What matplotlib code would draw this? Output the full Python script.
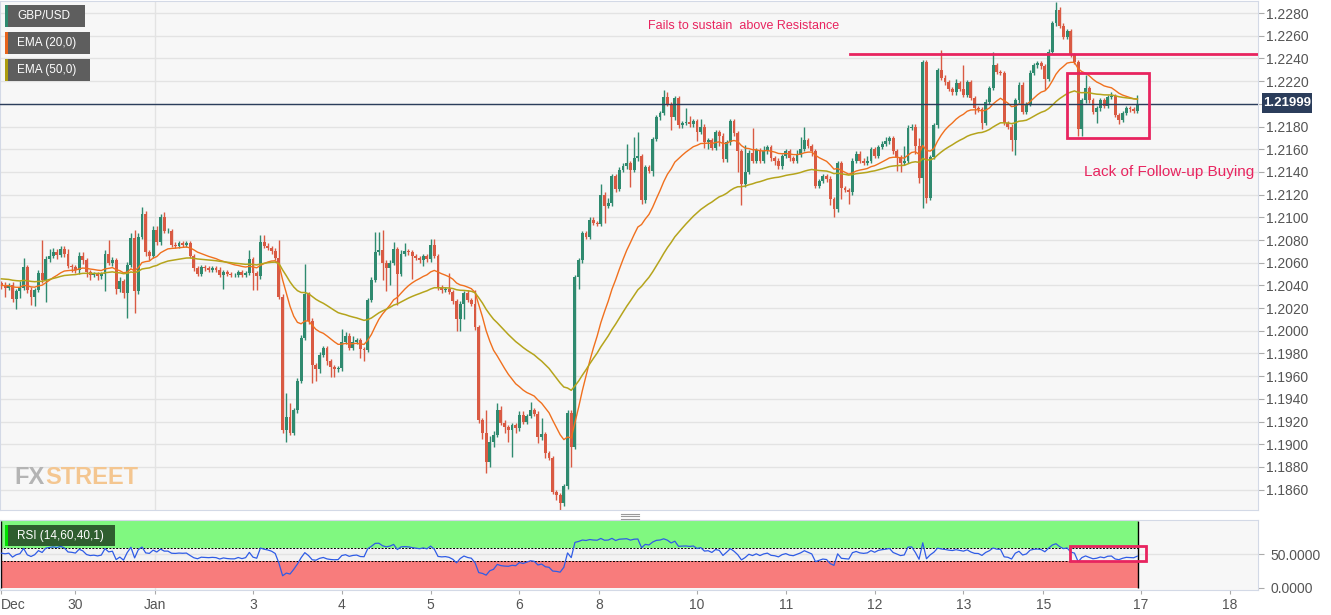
import numpy as np
import pandas as pd
import matplotlib
matplotlib.use("Agg")
import matplotlib.pyplot as plt
from matplotlib.patches import Rectangle
from matplotlib.lines import Line2D
from matplotlib import font_manager

# ---------------------------------------------------------------------------
# GBP/USD hourly candles, closes in pips (price * 10000), one list per day
# ---------------------------------------------------------------------------
first_open = 12042
dec29 = [12040, 12038, 12040, 12028, 12035, 12038, 12056, 12036, 12030, 12036,
         12051, 12045, 12063, 12066, 12069, 12067, 12072, 12068, 12057, 12056]
dec30 = [12054, 12066, 12062, 12052, 12049, 12050, 12048, 12050, 12068, 12060, 12062,
         12037, 12044, 12033, 12058, 12082, 12035, 12083, 12103, 12069, 12066, 12089]
jan01 = [12078, 12100]
jan02 = [12088, 12088, 12076, 12075, 12077, 12076, 12077, 12066, 12055, 12050, 12056, 12055,
         12054, 12055, 12054, 12049, 12052, 12050, 12049, 12049, 12052, 12049, 12051, 12063]
jan03 = [12051, 12048, 12078, 12075, 12073, 12070, 12064, 12030, 11913, 11924, 11910, 11930,
         11956, 11994, 12032, 12009, 11970, 11966, 11979, 11985, 11973, 11968, 11966, 11967]
jan04 = [11990, 11995, 11985, 11990, 11992, 11984, 11983, 12027, 12045, 12069, 12071, 12060,
         12055, 12060, 12072, 12050, 12068, 12070, 12069, 12066, 12064, 12062, 12066, 12063]
jan05 = [12076, 12066, 12038, 12036, 12037, 12034, 12026, 12010, 12024, 12033, 12027, 12024,
         12003, 11921, 11910, 11884, 11902, 11908, 11930, 11919, 11915, 11913, 11917, 11914]
jan06 = [11926, 11920, 11925, 11930, 11927, 11906, 11909, 11892, 11888, 11858, 11855,
         11848, 11863, 11928, 11898, 12047, 12062, 12086, 12083, 12098, 12095, 12094]
jan08 = [12120, 12110]
jan09 = [12113, 12136, 12125, 12142, 12145, 12148, 12142, 12152, 12154, 12115, 12144, 12141,
         12169, 12188, 12192, 12206, 12200, 12188, 12205, 12181, 12183, 12184, 12182, 12185]
jan10 = [12175, 12180, 12166, 12168, 12161, 12175, 12172, 12151, 12166, 12185, 12174, 12158,
         12129, 12140, 12157, 12150, 12159, 12150, 12158, 12162, 12152, 12150, 12145, 12154]
jan11 = [12158, 12152, 12150, 12155, 12160, 12168, 12163, 12158, 12128, 12132, 12136, 12134,
         12116, 12107, 12148, 12126, 12124, 12122, 12150, 12156, 12150, 12148, 12150, 12160]
jan12 = [12154, 12162, 12165, 12167, 12170, 12158, 12153, 12148, 12150, 12179, 12180, 12163,
         12135, 12237, 12117, 12153, 12181, 12230, 12223, 12219, 12213, 12210, 12218, 12213]
jan13 = [12208, 12219, 12205, 12196, 12195, 12183, 12202, 12214, 12234, 12228, 12227,
         12183, 12180, 12168, 12203, 12217, 12193, 12200, 12227, 12234, 12236, 12233]
jan15 = [12222, 12246]
jan16 = [12271, 12283, 12269, 12259, 12264, 12243, 12237, 12178, 12203, 12214, 12203, 12193,
         12196, 12203, 12198, 12206, 12207, 12190, 12186, 12192, 12196, 12195, 12194, 12200]

# wick lengths above / below the body, in pips
upper_wick = ([2, 3, 2, 3, 2, 6, 8, 2, 3, 2, 3, 29, 3, 6, 4, 3, 3, 3, 4, 2]
              + [2, 3, 3, 2, 2, 2, 2, 2, 3, 12, 3, 2, 3, 2, 3, 4, 7, 3, 6, 3, 2, 3]
              + [3, 3]
              + [5, 3, 2, 2, 2, 2, 2, 2, 2, 2, 2, 2, 2, 2, 2, 2, 2, 2, 2, 2, 2, 2, 2, 8]
              + [2, 2, 6, 6, 2, 2, 3, 16, 2, 21, 12, 2, 2, 2, 27, 2, 2, 2, 2, 2, 2, 2, 2, 2]
              + [12, 4, 3, 5, 2, 2, 2, 2, 2, 18, 16, 18, 2, 2, 6, 2, 3, 7, 2, 2, 2, 2, 2, 2]
              + [5, 5, 2, 2, 2, 14, 2, 2, 2, 2, 3, 2, 12, 2, 2, 20, 5, 4, 6, 4, 2, 2, 2, 2]
              + [3, 3, 2, 7, 2, 2, 14, 2, 2, 2, 2, 2, 2, 2, 2, 2, 2, 2, 2, 2, 2, 2]
              + [9, 2]
              + [4, 2, 2, 2, 3, 17, 2, 19, 21, 2, 2, 2, 2, 2, 2, 6, 4, 2, 2, 2, 2, 12, 5, 2]
              + [2, 7, 2, 2, 2, 2, 2, 2, 2, 2, 2, 2, 2, 24, 2, 22, 2, 2, 5, 2, 2, 2, 2, 2]
              + [2, 2, 2, 4, 11, 12, 2, 2, 2, 2, 2, 2, 2, 2, 2, 2, 2, 2, 2, 2, 2, 2, 4, 2]
              + [2, 2, 2, 4, 2, 2, 2, 2, 13, 2, 2, 2, 7, 2, 2, 2, 2, 2, 17, 2, 2, 2, 4, 2]
              + [21, 2, 2, 2, 2, 2, 2, 2, 12, 2, 2, 2, 2, 2, 2, 2, 2, 2, 3, 2, 2, 2]
              + [2, 2]
              + [2, 7, 2, 2, 2, 2, 2, 2, 2, 11, 2, 2, 2, 2, 2, 2, 3, 2, 2, 2, 2, 2, 2, 8])
lower_wick = ([3, 8, 2, 3, 9, 6, 2, 3, 7, 8, 2, 3, 20, 2, 2, 4, 2, 3, 2, 4]
              + [3, 4, 3, 5, 4, 2, 3, 2, 15, 2, 3, 5, 3, 4, 22, 2, 19, 3, 2, 3, 4, 2]
              + [2, 2]
              + [2, 2, 2, 2, 2, 2, 2, 2, 2, 2, 2, 2, 2, 2, 2, 2, 12, 2, 2, 2, 2, 2, 2, 2]
              + [15, 12, 2, 2, 2, 2, 2, 2, 3, 11, 2, 2, 2, 2, 2, 3, 16, 10, 3, 2, 3, 9, 7, 2]
              + [2, 2, 2, 2, 2, 8, 10, 2, 2, 2, 2, 15, 20, 15, 2, 27, 2, 2, 2, 20, 2, 2, 5, 2]
              + [2, 2, 2, 3, 2, 2, 2, 10, 10, 14, 2, 2, 2, 2, 5, 9, 4, 4, 2, 2, 5, 11, 24, 4]
              + [2, 2, 2, 2, 2, 5, 2, 4, 2, 2, 4, 6, 2, 2, 18, 2, 10, 2, 2, 2, 2, 2]
              + [2, 15]
              + [2, 3, 3, 2, 2, 2, 15, 2, 2, 3, 2, 2, 5, 2, 2, 2, 2, 11, 2, 2, 2, 2, 2, 2]
              + [8, 2, 5, 6, 2, 2, 9, 2, 2, 2, 2, 18, 18, 2, 2, 2, 2, 2, 2, 2, 2, 4, 2, 2]
              + [2, 2, 2, 2, 2, 2, 2, 4, 2, 2, 2, 3, 5, 7, 2, 10, 2, 10, 2, 2, 2, 2, 2, 2]
              + [2, 2, 2, 2, 2, 2, 12, 8, 2, 2, 2, 7, 5, 27, 4, 2, 2, 2, 2, 2, 2, 2, 2, 2]
              + [2, 2, 2, 5, 2, 5, 2, 2, 2, 2, 2, 2, 2, 10, 13, 2, 2, 2, 2, 2, 2, 2]
              + [10, 2]
              + [2, 2, 2, 2, 2, 2, 2, 6, 6, 2, 2, 2, 10, 2, 2, 2, 2, 2, 4, 2, 2, 2, 2, 2])

close_pips = (dec29 + dec30 + jan01 + jan02 + jan03 + jan04 + jan05 + jan06 + jan08
              + jan09 + jan10 + jan11 + jan12 + jan13 + jan15 + jan16)
assert len(close_pips) == len(upper_wick) == len(lower_wick)

# indicator state carried in from before the visible window
ema20_seed = 1.2040
ema50_seed = 1.2046
rsi_gain_seed = 0.00045
rsi_loss_seed = 0.00040
last_price = 1.21999
resistance = 1.2244

day_labels = ["Dec", "30", "Jan", "3", "4", "5", "6", "8", "10", "11", "12", "13", "15", "17", "18"]
day_ticks = [-0.2, 20, 41.6, 68, 92, 116, 140, 161.6, 188, 212, 236, 260, 281.6, 308, 332]

# ---------------------------------------------------------------------------
GREEN = "#2f8a6f"
RED = "#d95a43"
EMA20_C = "#f0701e"
EMA50_C = "#b5a41c"
PINK = "#e8245f"
BG = "#f7f7f7"
SPINE = "#d3d9e6"
GRID = "#e3e3e3"
TXT = "#555555"

names = {f.name for f in font_manager.fontManager.ttflist}
NARROW = "Liberation Sans Narrow" if "Liberation Sans Narrow" in names else "Liberation Sans"
plt.rcParams["font.family"] = ["Liberation Sans", "DejaVu Sans"]

close = pd.Series(close_pips, dtype=float) / 10000
opens = close.shift(1)
opens.iloc[0] = first_open / 10000
close = close.values
opens = opens.values
idx = np.arange(len(close))
body_lo = np.minimum(opens, close)
body_hi = np.maximum(opens, close)
high = body_hi + np.array(upper_wick) / 10000
low = body_lo - np.array(lower_wick) / 10000
cols = np.where(close >= opens, GREEN, RED)

ema20 = pd.Series(np.r_[ema20_seed, close]).ewm(span=20, adjust=False).mean().values[1:]
ema50 = pd.Series(np.r_[ema50_seed, close]).ewm(span=50, adjust=False).mean().values[1:]

# Wilder RSI(14)
delta = np.diff(np.r_[opens[0], close])
g = np.r_[rsi_gain_seed, np.clip(delta, 0, None)]
l = np.r_[rsi_loss_seed, np.clip(-delta, 0, None)]
avg_g = pd.Series(g).ewm(alpha=1 / 14, adjust=False).mean().values[1:]
avg_l = pd.Series(l).ewm(alpha=1 / 14, adjust=False).mean().values[1:]
rsi = 100 - 100 / (1 + avg_g / avg_l)

# ---------------------------------------------------------------------------
W, H = 1331, 615
fig = plt.figure(figsize=(W / 100, H / 100), dpi=100, facecolor="white")


def px_box(x0, y0, x1, y1):
    return [x0 / W, 1 - y1 / H, (x1 - x0) / W, (y1 - y0) / H]


ax = fig.add_axes(px_box(0, 1, 1258, 510))
ax_rsi = fig.add_axes(px_box(0, 520, 1258, 590))
xlim = (-0.38, 339.6)

# main price panel
ax.set_facecolor(BG)
ax.set_xlim(*xlim)
ax.set_ylim(1.18421, 1.22906)
price_ticks = np.arange(1.1860, 1.22801, 0.0020)
ax.set_yticks(price_ticks)
# the 1.2200 label sits under the last-price tag
ax.set_yticklabels(["" if abs(v - 1.22) < 1e-6 else f"{v:.4f}" for v in price_ticks])
ax.yaxis.tick_right()
ax.tick_params(axis="y", length=4, color="#aaaaaa", labelcolor=TXT, labelsize=10, pad=2)
ax.set_xticks([])
for v in price_ticks:
    ax.axhline(v, color=GRID, lw=1, zorder=0)
ax.axvline(41.6, color=GRID, lw=1, zorder=0)
for s in ax.spines.values():
    s.set_color(SPINE)

ax.vlines(idx, low, high, colors=cols, lw=1, zorder=2)
ax.bar(idx, np.maximum(body_hi - body_lo, 0.00003), bottom=body_lo, width=0.78,
       color=cols, linewidth=0, zorder=2)
ax.plot(idx, ema20, color=EMA20_C, lw=1, zorder=3)
ax.plot(idx, ema50, color=EMA50_C, lw=1.1, zorder=3)

ax.axhline(last_price, color="#2b3d5b", lw=1, zorder=4)
ax.plot([229.4, xlim[1]], [resistance, resistance], color=PINK, lw=2, zorder=4)
ax.add_patch(Rectangle((288, 1.21699), 22.2, 0.00572, fill=False, ec=PINK, lw=2, zorder=5))

ax.text(200.7, 1.22685, "Fails to sustain  above Resistance", color=PINK,
        family=NARROW, fontsize=9, ha="center", va="center")
ax.text(338.5, 1.2140, "Lack of Follow-up Buying", color=PINK,
        family=NARROW, fontsize=11, ha="right", va="center")

# RSI panel
ax_rsi.set_facecolor(BG)
ax_rsi.set_xlim(*xlim)
ax_rsi.set_ylim(-3, 101.5)
last = idx[-1] + 0.3
ax_rsi.add_patch(Rectangle((xlim[0], 60), last - xlim[0], 40, color="#80f880", lw=0, zorder=1))
ax_rsi.add_patch(Rectangle((xlim[0], 0), last - xlim[0], 40, color="#f87c7c", lw=0, zorder=1))
ax_rsi.add_patch(Rectangle((xlim[0], 40), last - xlim[0], 20, color="#f3f3f3", lw=0, zorder=0.5))
ax_rsi.axhline(50, color=GRID, lw=1, zorder=0.6)
ax_rsi.plot([xlim[0], last], [60, 60], color="black", lw=0.7, ls=(0, (2, 1.5)), zorder=2)
ax_rsi.plot([xlim[0], last], [40, 40], color="black", lw=0.7, ls=(0, (2, 1.5)), zorder=2)
ax_rsi.vlines([last, xlim[0] + 0.15], 0, 100, color="black", lw=1, zorder=2)
ax_rsi.axvline(41.6, color=GRID, lw=1, zorder=0.7)
ax_rsi.plot(idx, rsi, color="#2f5ce6", lw=0.9, zorder=3)
ax_rsi.add_patch(Rectangle((288.8, 40.5), 20.5, 22.5, fill=False, ec=PINK, lw=2, zorder=5))

ax_rsi.yaxis.tick_right()
ax_rsi.set_yticks([0, 50])
ax_rsi.set_yticklabels(["0.0000", "50.0000"])
ax_rsi.tick_params(axis="y", length=4, color="#aaaaaa", labelcolor=TXT, labelsize=10, pad=5)
ax_rsi.set_xticks(day_ticks)
ax_rsi.set_xticklabels(day_labels)
ax_rsi.tick_params(axis="x", length=3, color="#aaaaaa", labelcolor=TXT, labelsize=10, pad=3)
ax_rsi.get_xticklabels()[0].set_ha("left")
for s in ax_rsi.spines.values():
    s.set_color(SPINE)


# legend boxes drawn in figure pixels
def label_box(x0, y0, x1, y1, bg, bar, text):
    fig.add_artist(Rectangle((x0 / W, 1 - y1 / H), (x1 - x0) / W, (y1 - y0) / H,
                             transform=fig.transFigure, color=bg, lw=0))
    fig.add_artist(Rectangle((x0 / W, 1 - y1 / H), 3 / W, (y1 - y0) / H,
                             transform=fig.transFigure, color=bar, lw=0))
    fig.text((x0 + 12) / W, 1 - (y0 + y1) / 2 / H, text, color="white", fontsize=8.5,
             ha="left", va="center")


label_box(5, 5, 85, 27, "#5e5e5e", GREEN, "GBP/USD")
label_box(5, 32, 90, 54, "#5e5e5e", "#e8641c", "EMA (20,0)")
label_box(5, 59, 90, 81, "#5e5e5e", "#ad9d10", "EMA (50,0)")
label_box(5, 525, 115, 546, "#2f5e2f", "#00e000", "RSI (14,60,40,1)")

# current price tag
fig.add_artist(Rectangle((1262 / W, 1 - 113 / H), 50 / W, 20 / H,
                         transform=fig.transFigure, color="#2b3d5b", lw=0))
fig.text(1287 / W, 1 - 103 / H, "1.21999", color="white", fontsize=9.5,
         fontweight="bold", ha="center", va="center")

# panel splitter handle
for yy in (513.5, 516, 518.5):
    fig.add_artist(Line2D([621 / W, 639 / W], [1 - yy / H, 1 - yy / H],
                          transform=fig.transFigure, color="#9a9a9a", lw=0.8))

# watermark
t_fx = fig.text(14 / W, 1 - 478 / H, "FX", color="#b4b4b4", family=NARROW,
                fontweight="bold", fontsize=17, ha="left", va="center")
fig.canvas.draw()
fx_right = t_fx.get_window_extent(fig.canvas.get_renderer()).x1
fig.text((fx_right + 1) / W, 1 - 478 / H, "STREET", color="#f4c690", family=NARROW,
         fontweight="bold", fontsize=17, ha="left", va="center")

fig.savefig("out.png", dpi=100, facecolor="white")
